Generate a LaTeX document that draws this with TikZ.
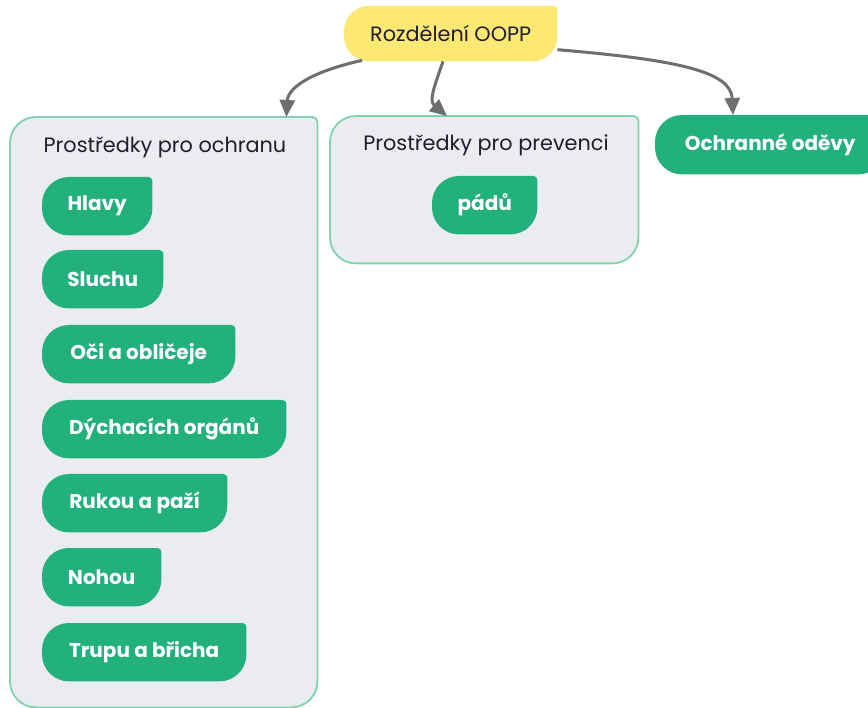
\documentclass[tikz,border=0pt]{standalone}
\usepackage{fontspec}
\setmainfont{Poppins}
\usetikzlibrary{arrows.meta,calc}

\definecolor{leafgreen}{HTML}{22B07D}
\definecolor{panelfill}{HTML}{EBECF0}
\definecolor{panelline}{HTML}{7ED3AD}
\definecolor{rootyellow}{HTML}{FDE873}
\definecolor{inkdark}{HTML}{1E1E2E}
\definecolor{linkgray}{HTML}{6E6E6E}

\pgfdeclarelayer{panels}
\pgfdeclarelayer{shapes}
\pgfsetlayers{panels,shapes,main}

\tikzset{
  box/.style={anchor=north west, inner sep=0pt, minimum height=58pt},
  pill/.style={box, text=white, font=\bfseries\fontsize{20}{23}\selectfont},
  heading/.style={text=inkdark, inner sep=0pt, font=\fontsize{20.8}{24}\selectfont},
  link/.style={draw=linkgray, line width=3pt, -{Triangle[length=17pt,width=15pt]}},
}

% leaf outline: radius #2 on three corners, radius #3 on the top-right one
\newcommand\leafshape[4]{%
  \path[#4] ($(#1.north west)+(#2,0pt)$) -- ($(#1.north east)+(-#3,0pt)$)
    arc[start angle=90, end angle=0, radius=#3]
    -- ($(#1.south east)+(0pt,#2)$) arc[start angle=0, end angle=-90, radius=#2]
    -- ($(#1.south west)+(#2,0pt)$) arc[start angle=270, end angle=180, radius=#2]
    -- ($(#1.north west)+(0pt,-#2)$) arc[start angle=180, end angle=90, radius=#2]
    -- cycle;}

\begin{document}
\begin{tikzpicture}[x=1pt,y=-1pt]
  \useasboundingbox (0,0) rectangle (868,708);
  \clip (0,0) rectangle (868,708);

  % root
  \node[box, minimum width=213pt, minimum height=55pt, text=inkdark,
        font=\fontsize{20.8}{24}\selectfont] (root) at (344,6) {Rozdělení OOPP};

  % panels
  \node[box, minimum width=307pt, minimum height=590pt] (protect) at (10,117) {};
  \node[box, minimum width=308pt, minimum height=147pt] (prevent) at (330,116) {};
  \node[heading] (protecttitle) at (165,147) {Prostředky pro ochranu};
  \node[heading] (preventtitle) at (486,145) {Prostředky pro prevenci};

  % leaves
  \node[pill, minimum width=110pt] (hlavy) at (42,177) {Hlavy};
  \node[pill, minimum width=121pt] (sluchu) at (42,250) {Sluchu};
  \node[pill, minimum width=193pt] (oci) at (42,325) {Oči a obličeje};
  \node[pill, minimum width=244pt] (dychaci) at (42,400) {Dýchacích orgánů};
  \node[pill, minimum width=185pt] (rukou) at (42,474) {Rukou a paží};
  \node[pill, minimum width=119pt] (nohou) at (42,548) {Nohou};
  \node[pill, minimum width=204pt] (trupu) at (42,623) {Trupu a břicha};
  \node[pill, minimum width=105pt] (padu) at (432,176) {pádů};
  \node[pill, minimum width=230pt, minimum height=59pt] (clothes) at (655,115) {Ochranné oděvy};

  \begin{pgfonlayer}{panels}
    \fill[white] (0,0) rectangle (868,708);
    \leafshape{protect}{26pt}{5pt}{fill=panelfill, draw=panelline, line width=1.8pt}
    \leafshape{prevent}{26pt}{5pt}{fill=panelfill, draw=panelline, line width=1.8pt}
  \end{pgfonlayer}
  \begin{pgfonlayer}{shapes}
    \leafshape{root}{25pt}{3pt}{fill=rootyellow}
    \foreach \leaf in {hlavy,sluchu,oci,dychaci,rukou,nohou,trupu,padu,clothes}
      {\leafshape{\leaf}{27pt}{4pt}{fill=leafgreen}}
  \end{pgfonlayer}

  % connectors
  \draw[link] ($(root.south west)+(18,-1)$) .. controls (310,72) and (288,88)
    .. ($(protect.north east)+(-31,0)$);
  \draw[link] ($(root.south west)+(99,0)$) .. controls (433,90) and (429,101)
    .. ($(prevent.north west)+(117,0)$);
  \draw[link] ($(root.east)+(0,16)$) .. controls (680,60) and (731,72)
    .. ($(clothes.north west)+(78,0)$);
\end{tikzpicture}
\end{document}
